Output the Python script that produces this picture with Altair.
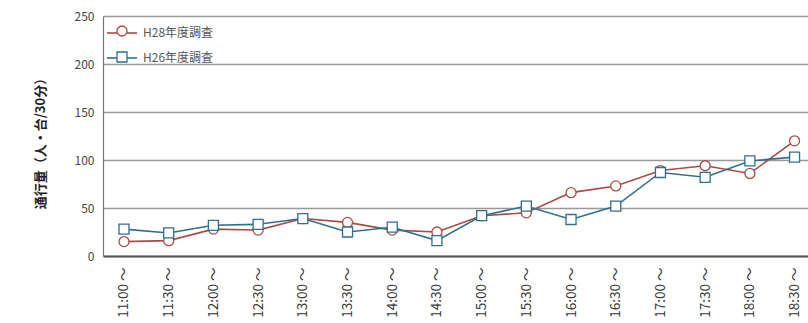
import altair as alt
import pandas as pd

times = ["11:00", "11:30", "12:00", "12:30", "13:00", "13:30", "14:00", "14:30",
         "15:00", "15:30", "16:00", "16:30", "17:00", "17:30", "18:00", "18:30"]
series_names = ["H28年度調査", "H26年度調査"]
h28 = [15, 16, 28, 27, 39, 35, 27, 25, 42, 45, 66, 73, 89, 94, 86, 120]
h26 = [28, 24, 32, 33, 39, 25, 30, 16, 42, 52, 38, 52, 87, 82, 99, 103]
y_ticks = [0, 50, 100, 150, 200, 250]
colors = ["#a84a45", "#2f6f8c"]
shapes = ["circle", "square"]

labels = [t + " ～" for t in times]
rows = []
for s, vals in zip(series_names, [h28, h26]):
    for lab, v in zip(labels, vals):
        rows.append({"時間帯": lab, "系列": s, "凡例線": s, "通行量": v})
df = pd.DataFrame(rows)

FONT = "Noto Sans CJK JP"

x_enc = alt.X("時間帯:N", sort=labels,
              scale=alt.Scale(type="point", padding=0.385, align=0.61),
              axis=alt.Axis(title=None, labelAngle=270, labelAlign="right",
                            labelBaseline="middle", labelFontSize=13.5,
                            labelColor="#333", labelPadding=11, grid=False,
                            domainColor="#555", domainWidth=2,
                            ticks=False, labelFont=FONT))
y_enc = alt.Y("通行量:Q", scale=alt.Scale(domain=[0, 250], nice=False),
              axis=alt.Axis(values=y_ticks, title="通行量（人・台/30分）",
                            titleFont=FONT, titleFontSize=13, titleFontWeight="bold",
                            titleColor="#222", titleAngle=270, titleX=-63, titleY=124,
                            titleAlign="center", titleBaseline="middle",
                            labelFont=FONT, labelFontSize=12, labelColor="#444",
                            labelPadding=9, ticks=False,
                            gridColor="#999", gridWidth=1.5,
                            domainColor="#777", domainWidth=1.2))

line_legend = alt.Legend(title=None, orient="none", legendX=3, legendY=1,
                         symbolType="stroke", symbolSize=900,
                         symbolStrokeWidth=1.6, labelFont=FONT,
                         labelFontSize=12, labelColor="#555",
                         labelOffset=5, rowPadding=3, padding=0)

lines = alt.Chart(df).mark_line(strokeWidth=1.6).encode(
    x=x_enc, y=y_enc,
    stroke=alt.Stroke("凡例線:N", sort=series_names,
                      scale=alt.Scale(range=colors), legend=line_legend),
)

pt_legend = alt.Legend(title=None, orient="none", legendX=13, legendY=9,
                       symbolSize=100, symbolFillColor="white",
                       symbolStrokeWidth=1.3, labelOpacity=0,
                       labelFontSize=12, rowPadding=10, padding=0)

points = alt.Chart(df).mark_point(filled=False, fill="white", fillOpacity=1,
                                  size=100, strokeWidth=1.3, opacity=1).encode(
    x=alt.X("時間帯:N", sort=labels), y="通行量:Q",
    color=alt.Color("系列:N", scale=alt.Scale(domain=series_names, range=colors),
                    legend=pt_legend),
    shape=alt.Shape("系列:N", scale=alt.Scale(domain=series_names, range=shapes),
                    legend=pt_legend),
)

chart = alt.layer(lines, points).properties(
    width=705, height=240,
    autosize=alt.AutoSizeParams(type="none"),
    padding={"left": 103, "top": 16, "right": 0, "bottom": 67},
    background="white",
).configure_view(stroke=None)

chart.save("out.html", embed_options={"renderer": "svg", "actions": False})
